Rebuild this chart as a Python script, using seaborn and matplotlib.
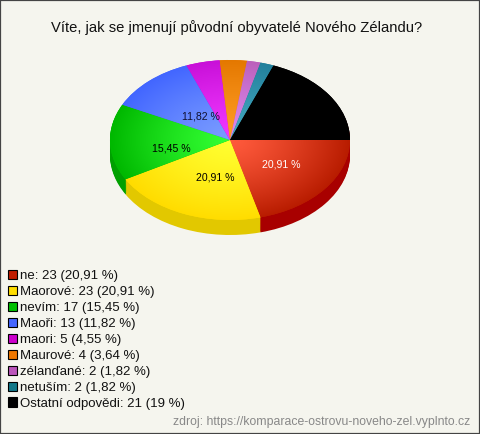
import numpy as np
import matplotlib
matplotlib.use('Agg')
import matplotlib.pyplot as plt
import seaborn as sns
from matplotlib.patches import Patch

title = 'Víte, jak se jmenují původní obyvatelé Nového Zélandu?'
source = 'zdroj: https://komparace-ostrovu-noveho-zel.vyplnto.cz'
names = ['ne', 'Maorové', 'nevím', 'Maoři', 'maori', 'Maurové', 'zélanďané', 'netuším', 'Ostatní odpovědi']
values = [23, 23, 17, 13, 5, 4, 2, 2, 21]
pct_text = ['20,91', '20,91', '15,45', '11,82', '4,55', '3,64', '1,82', '1,82', '19']
inner = ['#ff5a3c', '#ffff30', '#33ff33', '#7a9cff', '#f038ff', '#ff9c24', '#dd88ee', '#44a8c0', '#000000']
outer = ['#b81c00', '#ffdc00', '#00b800', '#4266ff', '#c810d8', '#e47800', '#bb60bb', '#22809c', '#000000']
swatch = ['#c01c00', '#ffdd00', '#00c000', '#4466ff', '#cc00cc', '#ee7700', '#bb55bb', '#117788', '#000000']
side = ['#a80000', '#e2c800', '#00a000', '#4466ff', '#cc00cc', '#ee7700', '#bb55bb', '#117788', '#a80000']
big_labels = ['20,91 %', '20,91 %', '15,45 %', '11,82 %']
label_colors = ['white', 'black', 'black', '#101030']
label_nudge = [(0.03, 0.0), (0.07, -0.01), (0.01, -0.09), (0.10, -0.075)]

bg = '#f5f5ee'
sns.set_theme(style='white', rc={'figure.facecolor': bg, 'axes.facecolor': bg})
plt.rcParams['font.family'] = ['Liberation Sans', 'DejaVu Sans']

fig = plt.figure(figsize=(4.8, 4.34), dpi=100)
ax = fig.add_axes([0, 0, 1, 1])

# side of the pie, stacked copies going down
for d in np.linspace(0.1875, 0.01, 16):
    ax.pie(values, colors=side, startangle=0, counterclock=False, center=(0, -d),
           wedgeprops={'linewidth': 0})

wedges, _ = ax.pie(values, colors=swatch, startangle=0, counterclock=False,
                   wedgeprops={'linewidth': 0})

# radial shading on each slice
xx, yy = np.meshgrid(np.linspace(-1.02, 1.02, 300), np.linspace(-1.02, 1.02, 300))
rr = np.clip(np.hypot(xx, yy), 0, 1) ** 1.25
for w, c1, c2 in zip(wedges, inner, outer):
    cmap = sns.blend_palette([c1, c2], as_cmap=True)
    im = ax.imshow(rr, cmap=cmap, vmin=0, vmax=1, extent=(-1.02, 1.02, -1.02, 1.02),
                   origin='lower', aspect='auto', zorder=3)
    im.set_clip_path(w)
ax.set_aspect('auto')
ax.set_xlim(-230 / 120, 250 / 120)
ax.set_ylim((140 - 434) / 80, 140 / 80)
ax.set_axis_off()

# percent labels, half way out of the slice
angles = -np.cumsum([0] + values[:-1]) / sum(values) * 360 - np.array(values) / sum(values) * 180
for a, t, c, n in zip(angles[:4], big_labels, label_colors, label_nudge):
    ax.text(0.5 * np.cos(np.radians(a)) + n[0], 0.5 * np.sin(np.radians(a)) + n[1], t, color=c,
            fontsize=7.6, ha='center', va='center', zorder=5)

fig.text(237 / 480, 1 - 28 / 434, title, fontsize=10.6, color='#111111', ha='center', va='center')
fig.text(470 / 480, 1 - 422 / 434, source, fontsize=8.8, color='#888888', ha='right', va='center')

handles = [Patch(facecolor=c, edgecolor='black', linewidth=0.8) for c in swatch]
labels = [f'{n}: {v} ({p} %)' for n, v, p in zip(names, values, pct_text)]
fig.legend(handles, labels, loc='upper left', bbox_to_anchor=(8 / 480, 1 - 270 / 434),
           frameon=False, fontsize=9.5, labelcolor='#111111', labelspacing=0.28,
           handlelength=0.7, handleheight=0.7, handletextpad=0.22, borderpad=0, borderaxespad=0)

# outer border
fig.add_artist(plt.Rectangle((0, 0), 1, 1, transform=fig.transFigure, fill=False,
                             edgecolor='#444444', linewidth=1.6))

fig.savefig('out.png', dpi=100, facecolor=bg)
